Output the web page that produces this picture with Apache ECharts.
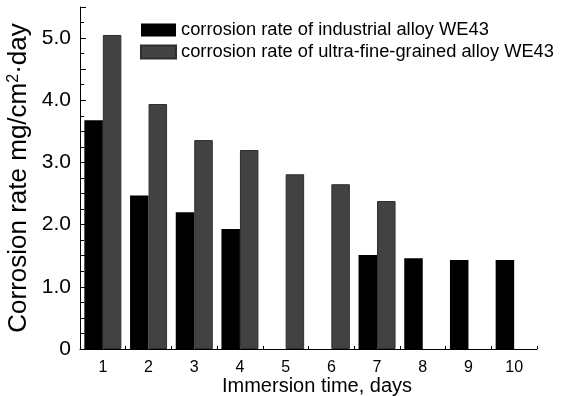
<!DOCTYPE html>
<html>
<head>
<meta charset="utf-8">
<script src="https://cdn.jsdelivr.net/npm/echarts@6/dist/echarts.min.js"></script>
<style>html,body{margin:0;padding:0;background:#fff}#c{width:562px;height:396px}</style>
</head>
<body>
<div id="c"></div>
<script>
var categories = ['1','2','3','4','5','6','7','8','9','10'];
var industrial = [3.68, 2.47, 2.20, 1.93, null, null, 1.51, 1.46, 1.43, 1.43];
var ufg = [5.05, 3.94, 3.36, 3.20, 2.81, 2.65, 2.38, null, null, null];
var seriesNames = ['corrosion rate of industrial alloy WE43', 'corrosion rate of ultra-fine-grained alloy WE43'];

var FONT = '"Liberation Sans", Arial, sans-serif';
var chart = echarts.init(document.getElementById('c'));
chart.setOption({
  animation: false,
  backgroundColor: '#fff',
  textStyle: {fontFamily: FONT, color: '#000'},
  grid: {left: 80, right: 25, top: 7, bottom: 47, containLabel: false, outerBoundsMode: 'none'},
  legend: {
    orient: 'vertical',
    left: 135,
    top: 16,
    itemWidth: 35,
    itemHeight: 13,
    itemGap: 4,
    icon: 'rect',
    textStyle: {fontFamily: FONT, fontSize: 18.3, color: '#000'},
    data: seriesNames
  },
  xAxis: {
    type: 'category',
    data: categories,
    name: 'Immersion time, days',
    nameLocation: 'middle',
    nameGap: 27,
    nameMoveOverlap: false,
    nameTextStyle: {fontFamily: FONT, fontSize: 20, lineHeight: 20, color: '#000', padding: [0,0,0,17]},
    axisLine: {lineStyle: {color: '#000', width: 1}},
    axisTick: {show: true, inside: true, length: 3, lineStyle: {color: '#000'}},
    axisLabel: {fontFamily: FONT, fontSize: 16, color: '#000', margin: 11},
    splitLine: {show: false}
  },
  yAxis: {
    type: 'value',
    min: 0,
    max: 5.5,
    interval: 0.5,
    name: 'Corrosion rate mg/cm{sup|2}·day',
    nameLocation: 'middle',
    nameGap: 48,
    nameMoveOverlap: false,
    nameTextStyle: {
      fontFamily: FONT, fontSize: 26, color: '#000',
      rich: {sup: {fontFamily: FONT, fontSize: 16, color: '#000', verticalAlign: 'top', padding: [0,0,10,0]}}
    },
    axisLine: {show: true, lineStyle: {color: '#000', width: 1}},
    axisTick: {show: true, inside: true, length: 6, lineStyle: {color: '#000'}},
    minorTick: {show: true, splitNumber: 2, length: 4, lineStyle: {color: '#000'}},
    axisLabel: {
      fontFamily: FONT, fontSize: 21, color: '#000', margin: 9,
      formatter: function (v) {
        if (Math.abs(v - Math.round(v)) > 1e-6) return '';
        return v === 0 ? '0' : v.toFixed(1);
      }
    },
    splitLine: {show: false}
  },
  series: [
    {
      name: seriesNames[0], type: 'bar', data: industrial,
      barWidth: 18.5, barGap: '0%',
      itemStyle: {color: '#000'}
    },
    {
      name: seriesNames[1], type: 'bar', data: ufg,
      barWidth: 18.5, barGap: '0%',
      itemStyle: {color: '#424242', borderColor: '#2e2e2e', borderWidth: 1}
    }
  ]
});
</script>
</body>
</html>
